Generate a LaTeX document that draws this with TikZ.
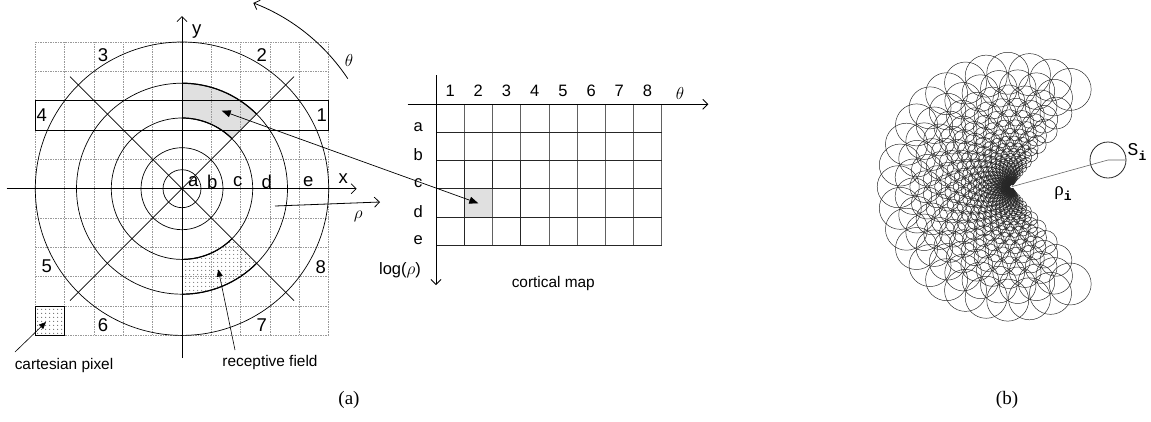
\documentclass[tikz,border=0pt]{standalone}
\usepackage{fontspec}
\setmainfont{Liberation Sans}
\newfontfamily\capfont{Liberation Serif}
\newfontfamily\monofont{Liberation Mono}
\usetikzlibrary{arrows.meta,patterns.meta}
\tikzdeclarepattern{
  name=mydots, type=uncolored,
  bounding box={(0pt,0pt) and (3.6pt,3.6pt)},
  tile size={(3.6pt,3.6pt)},
  code={\fill (1.8pt,1.8pt) circle[radius=0.55pt];}
}
\begin{document}
\begin{tikzpicture}[x=1pt,y=1pt,
  gridln/.style={draw=black!40, line width=0.5pt, dash pattern=on 1.6pt off 0.9pt},
  circ/.style={draw=black, line width=0.7pt},
  thickarc/.style={draw=black, line width=1.2pt},
  axisline/.style={line width=0.8pt, -{Straight Barb[length=5pt,width=10pt]}},
  pointer/.style={line width=0.6pt, -{Triangle[length=7pt,width=6pt]}},
  dotfill/.style={pattern={mydots}, pattern color=black!70},
  big/.style={font=\fontsize{18.5}{20}\selectfont, inner sep=0pt},
  mid/.style={font=\fontsize{16.5}{18}\selectfont, inner sep=0pt},
  small/.style={font=\fontsize{15.4}{17}\selectfont, inner sep=0pt},
  capt/.style={font=\capfont\fontsize{19}{21}\selectfont, inner sep=0pt},
  cgrey/.style={draw=black!62, line width=0.6pt},
  cdark/.style={draw=black!85, line width=0.65pt},
  pac/.style={draw=black!85, line width=0.48pt}
]
\useasboundingbox (0,0) rectangle (1151,-421);

% ---------------- (a) left: cartesian / polar grid ----------------
\begin{scope}[shift={(182,-188.7)}]
  \def\s{29.333}
  \fill[black!12] (90:105.5) arc[start angle=90,end angle=45,radius=105.5]
       -- (45:70.7) arc[start angle=45,end angle=90,radius=70.7] -- cycle;
  \fill[dotfill] (-90:105.5) arc[start angle=-90,end angle=-45,radius=105.5]
       -- (-45:70.7) arc[start angle=-45,end angle=-90,radius=70.7] -- cycle;
  \fill[dotfill] (-5*\s,-5*\s) rectangle (-4*\s,-4*\s);
  \foreach \i in {-5,...,5} {
    \draw[gridln] (\i*\s,-5*\s) -- (\i*\s,5*\s);
    \draw[gridln] (-5*\s,\i*\s) -- (5*\s,\i*\s);
  }
  \draw[line width=0.7pt] (-5*\s,-5*\s) rectangle (-4*\s,-4*\s);
  \draw[line width=0.7pt] (-5*\s,2*\s) rectangle (5*\s,3*\s);
  \foreach \r in {19,41,70.7,105.5,146.7}
    \draw[circ] (0,0) circle[radius=\r];
  \draw[thickarc] (90:105.5) arc[start angle=90,end angle=45,radius=105.5];
  \draw[thickarc] (90:70.7) arc[start angle=90,end angle=45,radius=70.7];
  \draw[thickarc] (-90:105.5) arc[start angle=-90,end angle=-45,radius=105.5];
  \draw[thickarc] (-90:70.7) arc[start angle=-90,end angle=-45,radius=70.7];
  \coordinate (d1s) at (-112,112);  \coordinate (d1e) at (112,-112);
  \coordinate (d2s) at (-112,-112); \coordinate (d2e) at (112,112);
  \draw[line width=0.7pt] (d1s) -- (d1e);
  \draw[line width=0.7pt] (d2s) -- (d2e);
  \coordinate (xs) at (-175.3,0); \coordinate (xe) at (174.7,0);
  \coordinate (ys) at (0,-169.3); \coordinate (ye) at (0,172.7);
  \draw[axisline] (xs) -- (xe);
  \draw[axisline] (ys) -- (ye);
  \coordinate (ths) at (33.6:199);
  \draw[line width=0.8pt, -{Straight Barb[length=5pt,width=10pt]}] (ths) arc[start angle=33.6,end angle=69,radius=199];
\end{scope}

\coordinate (rhos) at (275,-206);
\coordinate (rhoe) at (380,-202);
\draw[axisline] (rhos) -- (rhoe);

\node[big] (lx) at (343.3,-178.3) {x};
\node[big] (ly) at (196.7,-31.7) {y};
\node[font=\fontsize{18}{20}\selectfont, inner sep=0pt] (lth) at (349,-60) {$\theta$};
\node[font=\fontsize{18}{20}\selectfont, inner sep=0pt] (lrho) at (358.3,-216.7) {$\rho$};
\node[big] (n1) at (321.7,-115) {1};
\node[big] (n2) at (261.7,-55) {2};
\node[big] (n3) at (103,-55) {3};
\node[big] (n4) at (41.7,-115) {4};
\node[big] (n5) at (46.7,-266.7) {5};
\node[big] (n6) at (103,-325) {6};
\node[big] (n7) at (261.7,-325) {7};
\node[big] (n8) at (320.7,-266.7) {8};
\node[big] (la) at (193.3,-181.7) {a};
\node[big] (lb) at (212.3,-181.7) {b};
\node[big] (lc) at (237.7,-181.7) {c};
\node[big] (ld) at (266.7,-181.7) {d};
\node[big] (le) at (308.3,-181.7) {e};
\node[small] (cp) at (64,-366) {cartesian pixel};
\node[small] (rf) at (270,-363) {receptive field};
\coordinate (cpt) at (15,-352); \coordinate (cph) at (46,-322);
\draw[pointer] (cpt) -- (cph);
\coordinate (rft) at (235,-350); \coordinate (rfh) at (218.3,-269.5);
\draw[pointer] (rft) -- (rfh);

% ---------------- cortical map ----------------
\def\cx{436} \def\cy{-104.3} \def\cw{28.2} \def\ch{28.14}
\fill[black!12] (\cx+\cw,\cy-3*\ch) rectangle (\cx+2*\cw,\cy-4*\ch);
\foreach \k in {1,...,8}
  \draw[cgrey] (\cx+\k*\cw,\cy) -- (\cx+\k*\cw,\cy-5*\ch);
\foreach \j in {1,...,5}
  \draw[cdark] (\cx,\cy-\j*\ch) -- (\cx+8*\cw,\cy-\j*\ch);
\draw[cdark] (\cx+\cw,\cy-2*\ch) -- (\cx+\cw,\cy-5*\ch);
\draw[cdark] (\cx+2*\cw,\cy-2*\ch) -- (\cx+2*\cw,\cy-3*\ch);
\draw[cdark] (\cx+3*\cw,\cy-2*\ch) -- (\cx+3*\cw,\cy-5*\ch);
\coordinate (ths2) at (407.7,-104.3); \coordinate (the2) at (708.3,-104.3);
\coordinate (lrs) at (436,-75); \coordinate (lre) at (436,-285);
\draw[axisline] (ths2) -- (the2);
\draw[axisline] (lrs) -- (lre);
\foreach \k in {1,...,8}
  \node[mid] (c\k) at (\cx-\cw/2+\k*\cw,-91) {\k};
\node[font=\fontsize{18}{20}\selectfont, inner sep=0pt] (cth) at (680,-93.3) {$\theta$};
\node[mid] (ra) at (418.3,-126.7) {a};
\node[mid] (rb) at (418.3,-155) {b};
\node[mid] (rc) at (418.3,-183.3) {c};
\node[mid] (rd) at (418.3,-211.7) {d};
\node[mid] (re) at (418.3,-240) {e};
\node[mid] (lg) at (400,-270) {log($\rho$)};
\node[small] (cm) at (553.3,-283.3) {cortical map};

\coordinate (rfa) at (221.7,-110.7);
\coordinate (cma) at (478.3,-203.3);
\draw[line width=0.7pt, {Triangle[length=9pt,width=7pt]}-{Triangle[length=9pt,width=7pt]}] (rfa) -- (cma);

\node[capt] (capa) at (349,-400) {(a)};

% ---------------- (b) log-polar receptive fields ----------------
\coordinate (apex) at (1011.7,-186.7);
\begin{scope}[shift={(1011.7,-186.7)}]
  \foreach \k in {0,...,28} {
    \pgfmathsetmacro\rk{113.5*0.87^\k}
    \pgfmathsetmacro\rr{0.185*\rk}
    \pgfmathtruncatemacro\odd{mod(\k,2)}
    \ifnum\odd=0
      \foreach \a in {59,70,...,301}
        \draw[pac] (\a:\rk) circle[radius=\rr];
    \else
      \foreach \a in {64.5,75.5,...,296}
        \draw[pac] (\a:\rk) circle[radius=\rr];
    \fi
  }
\end{scope}
\node[draw=black!85, line width=0.8pt, circle, minimum size=36pt, inner sep=0pt] (si) at (1108,-160) {};
\draw[black!60, line width=0.6pt] (apex) -- (si.center) -- (si.east);
\node[inner sep=0pt] (lsi) at (1137,-152) {\monofont\fontsize{18}{18}\selectfont S\raisebox{-5pt}{\fontsize{13}{13}\selectfont\bfseries i}};
\node[inner sep=0pt] (lrhoi) at (1063,-194) {\capfont\fontsize{19}{19}\selectfont ρ\raisebox{-5pt}{\monofont\fontsize{13}{13}\selectfont\bfseries i}};

\node[capt] (capb) at (1007,-400) {(b)};
\end{tikzpicture}
\end{document}
